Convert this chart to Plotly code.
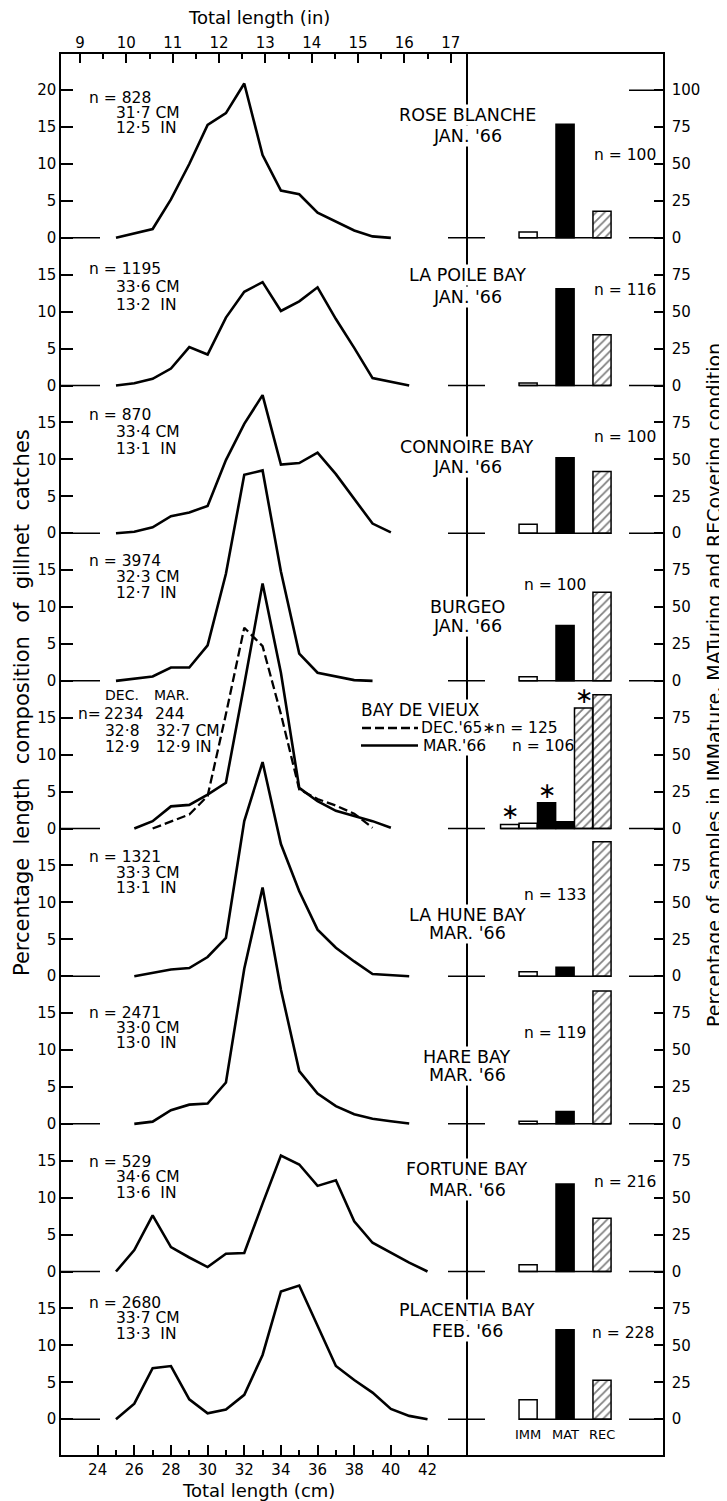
import plotly.graph_objects as go

# ---------------- data ----------------
stations = ["ROSE BLANCHE", "LA POILE BAY", "CONNOIRE BAY", "BURGEO", "BAY DE VIEUX",
            "LA HUNE BAY", "HARE BAY", "FORTUNE BAY", "PLACENTIA BAY"]
periods = ["JAN. '66", "JAN. '66", "JAN. '66", "JAN. '66", "",
           "MAR. '66", "MAR. '66", "MAR. '66", "FEB. '66"]
n_length = ["828", "1195", "870", "3974", "", "1321", "2471", "529", "2680"]
mean_cm = ["31·7", "33·6", "33·4", "32·3", "", "33·3", "33·0", "34·6", "33·7"]
mean_in = ["12·5", "13·2", "13·1", "12·7", "", "13·1", "13·0", "13·6", "13·3"]
# Bay de Vieux (two samples)
bdv_n = ["2234", "244"]
bdv_cm = ["32·8", "32·7"]
bdv_in = ["12·9", "12·9"]

rose_cm = list(range(25, 41))
rose_pct = [0, 0.6, 1.2, 5.2, 10.0, 15.3, 16.9, 20.9, 11.2, 6.4, 5.9, 3.4, 2.2, 1.0, 0.2, 0.0]
lapoile_cm = list(range(25, 42))
lapoile_pct = [0, 0.3, 0.9, 2.3, 5.2, 4.2, 9.2, 12.7, 14.0, 10.1, 11.4, 13.3, 9.0, 5.1, 1.0, 0.5, 0.0]
connoire_cm = list(range(25, 41))
connoire_pct = [0, 0.2, 0.8, 2.3, 2.8, 3.7, 9.9, 14.8, 18.7, 9.3, 9.5, 10.9, 8.0, 4.7, 1.3, 0.1]
burgeo_cm = list(range(25, 40))
burgeo_pct = [0, 0.3, 0.6, 1.8, 1.8, 4.8, 14.5, 27.9, 28.5, 14.8, 3.7, 1.1, 0.6, 0.1, 0.0]
bdv_mar_cm = list(range(26, 41))
bdv_mar_pct = [0, 1.0, 3.0, 3.2, 4.6, 6.2, 19.5, 33.2, 21.1, 5.5, 3.7, 2.4, 1.7, 1.0, 0.1]
bdv_dec_cm = list(range(27, 40))
bdv_dec_pct = [0, 1.0, 1.9, 4.4, 15.5, 27.2, 24.7, 15.5, 5.3, 4.0, 3.1, 2.0, 0.1]
lahune_cm = list(range(26, 42))
lahune_pct = [0, 0.45, 0.9, 1.1, 2.6, 5.2, 21.0, 29.0, 17.9, 11.5, 6.3, 3.85, 2.0, 0.3, 0.2, 0.0]
hare_cm = list(range(26, 42))
hare_pct = [0, 0.3, 1.85, 2.6, 2.75, 5.6, 21.0, 32.0, 18.2, 7.15, 4.1, 2.4, 1.3, 0.7, 0.35, 0.05]
fortune_cm = list(range(25, 43))
fortune_pct = [0, 2.9, 7.6, 3.3, 1.9, 0.6, 2.4, 2.5, 9.2, 15.7, 14.5, 11.6, 12.35, 6.8, 3.9, 2.5, 1.2, 0]
placentia_cm = list(range(25, 43))
placentia_pct = [0, 2.1, 6.9, 7.2, 2.7, 0.8, 1.3, 3.3, 8.7, 17.3, 18.1, 12.6, 7.2, 5.3, 3.6, 1.4, 0.45, 0]

length_cm = [rose_cm, lapoile_cm, connoire_cm, burgeo_cm, bdv_mar_cm,
             lahune_cm, hare_cm, fortune_cm, placentia_cm]
length_pct = [rose_pct, lapoile_pct, connoire_pct, burgeo_pct, bdv_mar_pct,
              lahune_pct, hare_pct, fortune_pct, placentia_pct]

cond_labels = ["IMM", "MAT", "REC"]
imm_pct = [4.0, 1.7, 6.0, 2.7, 3.6, 3.0, 1.7, 4.6, 13.2]
mat_pct = [77.0, 65.5, 51.0, 37.4, 4.6, 6.0, 8.4, 59.3, 60.5]
rec_pct = [18.0, 34.4, 41.7, 60.0, 90.6, 91.0, 89.9, 36.1, 26.3]
bdv_dec_cond = [2.8, 17.5, 81.6]   # Dec '65 sample (marked with asterisk)
n_cond = ["100", "116", "100", "100", "106", "133", "119", "216", "228"]
n_cond_dec = "125"

cm_ticks = [24, 26, 28, 30, 32, 34, 36, 38, 40, 42]
cm_minor = [25, 27, 29, 31, 33, 35, 37, 39, 41]
in_ticks = [9, 10, 11, 12, 13, 14, 15, 16, 17]
in_minor = [9.5, 10.5, 11.5, 12.5, 13.5, 14.5, 15.5, 16.5]
left_ticks = [0, 5, 10, 15]
right_ticks = [0, 25, 50, 75]

# ---------------- layout geometry (page pixels) ----------------
W, H = 727, 1501
OFF = 8                      # the page body offsets the figure by 8 px
L, R, T, B = 61, 663, 54, 1455
DIV = 466
FONT = "DejaVu Sans"
NB = "\u00a0"


def xp(px):
    return (px - L) / (R - L)


def yp(py):
    return (B - py) / (B - T)


NROWS = len(stations)
STEP = 20
PCT = 5  # right-axis percent per left-axis unit
base = [(NROWS - 1 - i) * STEP for i in range(NROWS)]
Y0, Y1 = -4.85, 184.9

fig = go.Figure()

# length-frequency curves
for i in range(NROWS):
    fig.add_trace(go.Scatter(
        x=length_cm[i], y=[base[i] + v for v in length_pct[i]], mode="lines",
        line=dict(color="black", width=2.6), xaxis="x", yaxis="y",
        showlegend=False, hoverinfo="skip"))
fig.add_trace(go.Scatter(
    x=bdv_dec_cm, y=[base[4] + v for v in bdv_dec_pct], mode="lines",
    line=dict(color="black", width=2.3, dash="9px,4px"), xaxis="x", yaxis="y",
    showlegend=False, hoverinfo="skip"))

# empty trace so the inch axis is drawn
fig.add_trace(go.Scatter(x=in_ticks, y=[None] * len(in_ticks), xaxis="x3", yaxis="y",
                         mode="markers", showlegend=False, hoverinfo="skip"))

# bars
pos = {c: k + 1 for k, c in enumerate(cond_labels)}
BW = 0.49
DEC_OFF = -0.5

for i in range(NROWS):
    centers = [pos[c] for c in cond_labels]
    if i == 4:
        centers += [pos[c] + DEC_OFF for c in cond_labels]
    fig.add_trace(go.Scatter(
        x=[min(centers) - BW / 2, max(centers) + BW / 2], y=[base[i] * PCT] * 2,
        mode="lines", line=dict(color="black", width=1.5), xaxis="x2", yaxis="y2",
        showlegend=False, hoverinfo="skip"))

styles = {
    "IMM": dict(color="white", line=dict(color="black", width=1.5)),
    "MAT": dict(color="black", line=dict(color="black", width=1.5)),
    "REC": dict(color="white", line=dict(color="black", width=1.5),
                pattern=dict(shape="/", fgcolor="black", bgcolor="white", size=6, solidity=0.3)),
}
for c, vals in zip(cond_labels, [imm_pct, mat_pct, rec_pct]):
    fig.add_trace(go.Bar(
        x=[pos[c]] * NROWS, y=vals, base=[b * PCT for b in base], width=BW,
        marker=styles[c], xaxis="x2", yaxis="y2", showlegend=False, hoverinfo="skip"))
for c, v in zip(cond_labels, bdv_dec_cond):
    fig.add_trace(go.Bar(
        x=[pos[c] + DEC_OFF], y=[v], base=[base[4] * PCT], width=BW,
        marker=styles[c], xaxis="x2", yaxis="y2", showlegend=False, hoverinfo="skip"))

# ---------------- shapes ----------------
shapes = []
lw = dict(color="black", width=1.5)
for b in base:
    shapes.append(dict(type="line", xref="paper", yref="y", x0=0, x1=xp(100), y0=b, y1=b, line=lw))
    shapes.append(dict(type="line", xref="paper", yref="y", x0=xp(448), x1=xp(485), y0=b, y1=b, line=lw))
    shapes.append(dict(type="line", xref="paper", yref="y", x0=xp(629), x1=1, y0=b, y1=b, line=lw))
shapes.append(dict(type="line", xref="paper", yref="y", x0=xp(629), x1=1,
                   y0=base[0] + STEP, y1=base[0] + STEP, line=lw))
# legend samples for Bay de Vieux
shapes.append(dict(type="line", xref="paper", yref="paper", x0=xp(362), x1=xp(418),
                   y0=yp(728), y1=yp(728), line=dict(color="black", width=2.3, dash="9px,4px")))
shapes.append(dict(type="line", xref="paper", yref="paper", x0=xp(361), x1=xp(418),
                   y0=yp(745.5), y1=yp(745.5), line=dict(color="black", width=2.3)))

# ---------------- annotations ----------------
ann = []


def text(s, x, y, size=15, xanchor="left", bg=None, angle=0, yanchor="middle"):
    d = dict(text=s, x=xp(x), y=yp(y), xref="paper", yref="paper", showarrow=False,
             xanchor=xanchor, yanchor=yanchor, font=dict(family=FONT, size=size, color="black"),
             textangle=angle)
    if bg:
        d["bgcolor"] = bg
        d["borderpad"] = 0
    ann.append(d)


# left text blocks
block_y = [(98.3, 112.7, 128.3), (269, 287.3, 305), (415, 432.3, 449.3), (560.7, 576.7, 593.3),
           None, (856.7, 872.7, 888.3), (1012.7, 1028.3, 1043.3), (1161.7, 1177.3, 1192.7),
           (1303.3, 1318.3, 1334)]
for i in range(NROWS):
    if block_y[i] is None:
        continue
    y1, y2, y3 = block_y[i]
    text(f"n = {n_length[i]}", 87, y1, size=15.5)
    text(f"{mean_cm[i]} CM", 114, y2, size=15.5)
    text(f"{mean_in[i]}{NB} IN", 114, y3, size=15.5)
# Bay de Vieux left block
text("DEC.", 103, 695, size=14)
text("MAR.", 152, 695, size=14)
text("n=", 76, 714, size=15.5)
text(bdv_n[0], 102, 714, size=15.5)
text(bdv_n[1], 153, 714, size=15.5)
text(bdv_cm[0], 103, 730.7, size=15.5)
text(f"{bdv_cm[1]} CM", 154, 730.7, size=15.5)
text(bdv_in[0], 103, 746.7, size=15.5)
text(f"{bdv_in[1]} IN", 154, 746.7, size=15.5)

# station labels (two lines each)
st_y = [(115, 136), (275, 297), (446.7, 466.7), (606.7, 626), None,
        (915, 933), (1056.7, 1075), (1169, 1190), (1310, 1330.7)]
for i in range(NROWS):
    if st_y[i] is None:
        continue
    text(stations[i], 467, st_y[i][0], size=17.5, xanchor="center", bg="white")
    text(periods[i], 467, st_y[i][1], size=17.5, xanchor="center", bg="white")
# Bay de Vieux legend
text(stations[4], 360, 710, size=17, bg="white")
text(f"DEC.'65∗n = {n_cond_dec}", 420, 727.5, size=15.5, bg="white")
text(f"MAR.'66", 422, 746, size=15.5, bg="white")
text(f"n = {n_cond[4]}", 510, 746, size=15.5)

# n labels of condition samples
ncond_xy = [(592, 155), (592, 290), (592, 436.7), (522, 585), None,
            (522, 895), (522, 1033), (592, 1181.7), (590, 1333)]
for i in range(NROWS):
    if ncond_xy[i] is None:
        continue
    text(f"n = {n_cond[i]}", ncond_xy[i][0], ncond_xy[i][1], size=15.5)

# asterisks above the Dec '65 bars
for c, v in zip(cond_labels, bdv_dec_cond):
    ann.append(dict(text="∗", x=pos[c] + DEC_OFF, y=base[4] * PCT + v, xref="x2", yref="y2",
                    showarrow=False, yanchor="bottom", yshift=-2,
                    font=dict(family=FONT, size=22, color="black")))

# condition category labels
for c in cond_labels:
    ann.append(dict(text=c, x=pos[c], y=base[-1] * PCT, xref="x2", yref="y2", showarrow=False,
                    yanchor="middle", yshift=-15, font=dict(family=FONT, size=13, color="black")))

# axis titles
text("Total length (in)", 259, 17, size=18, xanchor="center")
text("Total length (cm)", 258, 1490, size=18, xanchor="center")
left_title = f"{NB} ".join(["Percentage", "length", "composition", "of", "gillnet", "catches"])
text(left_title, 22, 703, size=21, xanchor="center", angle=-90)
text("Percentage of samples in IMMature, MATuring and RECovering condition", 714, 685,
     size=19, xanchor="center", angle=-90)

# ---------------- axes ----------------
left_vals, left_text, right_vals, right_text = [], [], [], []
for i, b in enumerate(base):
    tv = left_ticks + ([20] if i == 0 else [])
    rv = right_ticks + ([100] if i == 0 else [])
    left_vals += [b + t for t in tv]
    left_text += [str(t) for t in tv]
    right_vals += [b * PCT + t for t in rv]
    right_text += [str(t) for t in rv]

tickfont = dict(family=FONT, size=15, color="black")
fig.update_layout(
    width=W - OFF, height=H - OFF, plot_bgcolor="white", paper_bgcolor="white",
    margin=dict(l=L - OFF, r=W - R, t=T - OFF, b=H - B, pad=0, autoexpand=False),
    barmode="overlay", showlegend=False,
    xaxis=dict(domain=[0, xp(DIV)], range=[22.0, 44.1], anchor="y", tickmode="array",
               tickvals=cm_ticks, ticks="inside", ticklen=10, tickwidth=1.5, tickcolor="black",
               minor=dict(tickmode="array", tickvals=cm_minor, ticks="inside", ticklen=5,
                          tickwidth=1.5, tickcolor="black"),
               showline=True, mirror=True, linecolor="black", linewidth=1.5, showgrid=False,
               zeroline=False, tickfont=tickfont, ticklabelstandoff=0),
    xaxis3=dict(overlaying="x", side="top", anchor="y", range=[8.59, 17.33], tickmode="array",
                tickvals=in_ticks, ticks="inside", ticklen=9, tickwidth=1.5, tickcolor="black",
                minor=dict(tickmode="array", tickvals=in_minor, ticks="inside", ticklen=5,
                           tickwidth=1.5, tickcolor="black"),
                showline=False, showgrid=False, zeroline=False, tickfont=tickfont,
                ticklabelstandoff=2),
    yaxis=dict(domain=[0, 1], range=[Y0, Y1], anchor="x", tickmode="array", tickvals=left_vals,
               ticktext=left_text, ticks="inside", ticklen=12, tickwidth=1.5, tickcolor="black",
               showline=True, mirror=True, linecolor="black", linewidth=1.5, showgrid=False,
               zeroline=False, tickfont=tickfont, ticklabelstandoff=0),
    xaxis2=dict(domain=[xp(DIV), 1], range=[-0.68, 4.65], anchor="y2", showticklabels=False,
                ticks="", showline=True, mirror=True, linecolor="black", linewidth=1.5,
                showgrid=False, zeroline=False),
    yaxis2=dict(domain=[0, 1], range=[Y0 * PCT, Y1 * PCT], anchor="x2", side="right",
                tickmode="array", tickvals=right_vals, ticktext=right_text, ticks="inside",
                ticklen=9, tickwidth=1.5, tickcolor="black", showline=True, mirror=False,
                linecolor="black", linewidth=1.5, showgrid=False, zeroline=False,
                tickfont=tickfont, ticklabelstandoff=4),
    shapes=shapes, annotations=ann,
)

fig.write_html("out.html")
